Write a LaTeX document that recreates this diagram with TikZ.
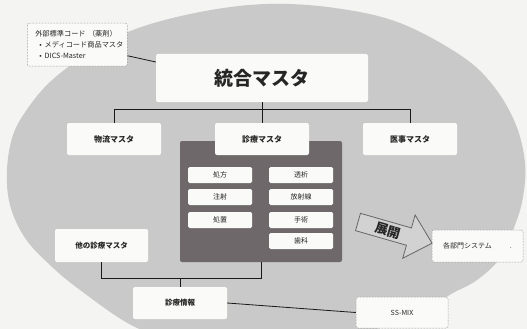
\documentclass[tikz,border=0pt]{standalone}
\usepackage{fontspec}
\setmainfont{Noto Sans CJK JP}
\usetikzlibrary{calc}
\definecolor{bgc}{HTML}{F4F4F2}
\definecolor{ellc}{HTML}{C9C9C9}
\definecolor{darkc}{HTML}{6E686B}
\definecolor{boxc}{HTML}{FAFAF8}
\definecolor{txtc}{HTML}{262626}
\definecolor{arrc}{HTML}{D2D2D2}
\begin{document}
\begin{tikzpicture}[x=1pt,y=-1pt,
  wbox/.style={fill=boxc, rounded corners=2pt, inner sep=0pt, text=txtc, font=\fontsize{7.5}{9}\selectfont\bfseries},
  midbox/.style={wbox, minimum width=94pt, minimum height=32pt, font=\fontsize{8}{10}\selectfont\bfseries},
  itembox/.style={wbox, minimum width=64pt, minimum height=16pt, rounded corners=1.5pt, font=\fontsize{7}{8}\selectfont},
  dotbox/.style={wbox, draw=black!55, densely dotted, line width=0.5pt},
  conn/.style={draw=black!90, line width=0.8pt}
]
\fill[bgc] (0,0) rectangle (527,329);
\useasboundingbox (0,0) rectangle (527,329);
\begin{scope}
  \clip (0,0) rectangle (527,329);
  \fill[ellc] plot[smooth cycle, tension=0.6] coordinates {
    (7,170) (13,135) (28,108) (50,82) (83,57) (133,30) (200,12) (267,4) (335,8)
    (400,23) (463,57) (495,88) (516,125) (525,163) (523,197) (515,225) (500,258)
    (477,280) (453,293) (420,312) (380,328) (330,340) (250,345) (180,340) (133,326)
    (80,290) (50,265) (25,238) (10,205)};
\end{scope}

% top
\node[wbox, minimum width=212pt, minimum height=48pt, font=\fontsize{19}{22}\selectfont\bfseries] (togo) at (262,78) {統合マスタ};
\node[dotbox, minimum width=100pt, minimum height=43pt, align=left, font=\fontsize{7.2}{11}\selectfont, anchor=north west, text width=100pt] (ext) at (27,23)
  {\hspace*{8pt}外部標準コード （薬剤）\\
   \hspace*{12pt}•\hspace{3pt}メディコード商品マスタ\\
   \hspace*{12pt}•\hspace{3pt}DICS-Master};

% middle row
\node[midbox] (butsu) at (114,139) {物流マスタ};
\node[midbox] (iji) at (410,139) {医事マスタ};
\node[fill=darkc, rounded corners=2pt, minimum width=162pt, minimum height=121pt, inner sep=0pt] (dark) at (261,201.5) {};
\node[midbox] (shin) at (262,139) {診療マスタ};

% items
\node[itembox] (i1) at (220,175) {処方};
\node[itembox] (i2) at (220,197) {注射};
\node[itembox] (i3) at (220,220) {処置};
\node[itembox] (i4) at (301,175) {透析};
\node[itembox] (i5) at (301,197) {放射線};
\node[itembox] (i6) at (301,220) {手術};
\node[itembox] (i7) at (301,241) {歯科};

% bottom
\node[wbox, minimum width=93pt, minimum height=33pt] (hoka) at (101.5,245.5) {他の診療マスタ};
\node[wbox, minimum width=94pt, minimum height=32pt] (sinfo) at (180,303) {診療情報};
\node[dotbox, minimum width=92pt, minimum height=31pt, font=\fontsize{7}{8}\selectfont] (ssmix) at (402,312.5) {SS-MIX};
\node[dotbox, minimum width=91pt, minimum height=32pt, font=\fontsize{7}{8}\selectfont] (bumon) at (477.5,246) {各部門システム\hspace{18pt}.};

% arrow
\begin{scope}[shift={(358,222)}, rotate=-16]
  \draw[fill=arrc, draw=black!60, line width=0.8pt, line join=miter]
    (0,-9) -- (53,-9) -- (53,-22.5) -- (77,0) -- (53,22.5) -- (53,9) -- (0,9) -- cycle;
  \node[transform shape, text=txtc, inner sep=0pt, font=\fontsize{13}{14}\selectfont\bfseries] (tenkai) at (31,0) {展開};
\end{scope}

% connectors
\draw[conn] ([yshift=-11pt]ext.east) -- ([yshift=16pt]togo.west);
\draw[conn] (togo.south) -- (shin.north);
\draw[conn] (butsu.north) -- ++(0,-13) -| (iji.north);
\draw[conn] (hoka.south) -- ++(0,16) -| (dark.south);
\coordinate (jn) at (180,278);
\draw[conn] (sinfo.north) -- (jn);
\draw[conn] (sinfo.east) -- (ssmix.west);
\end{tikzpicture}
\end{document}
